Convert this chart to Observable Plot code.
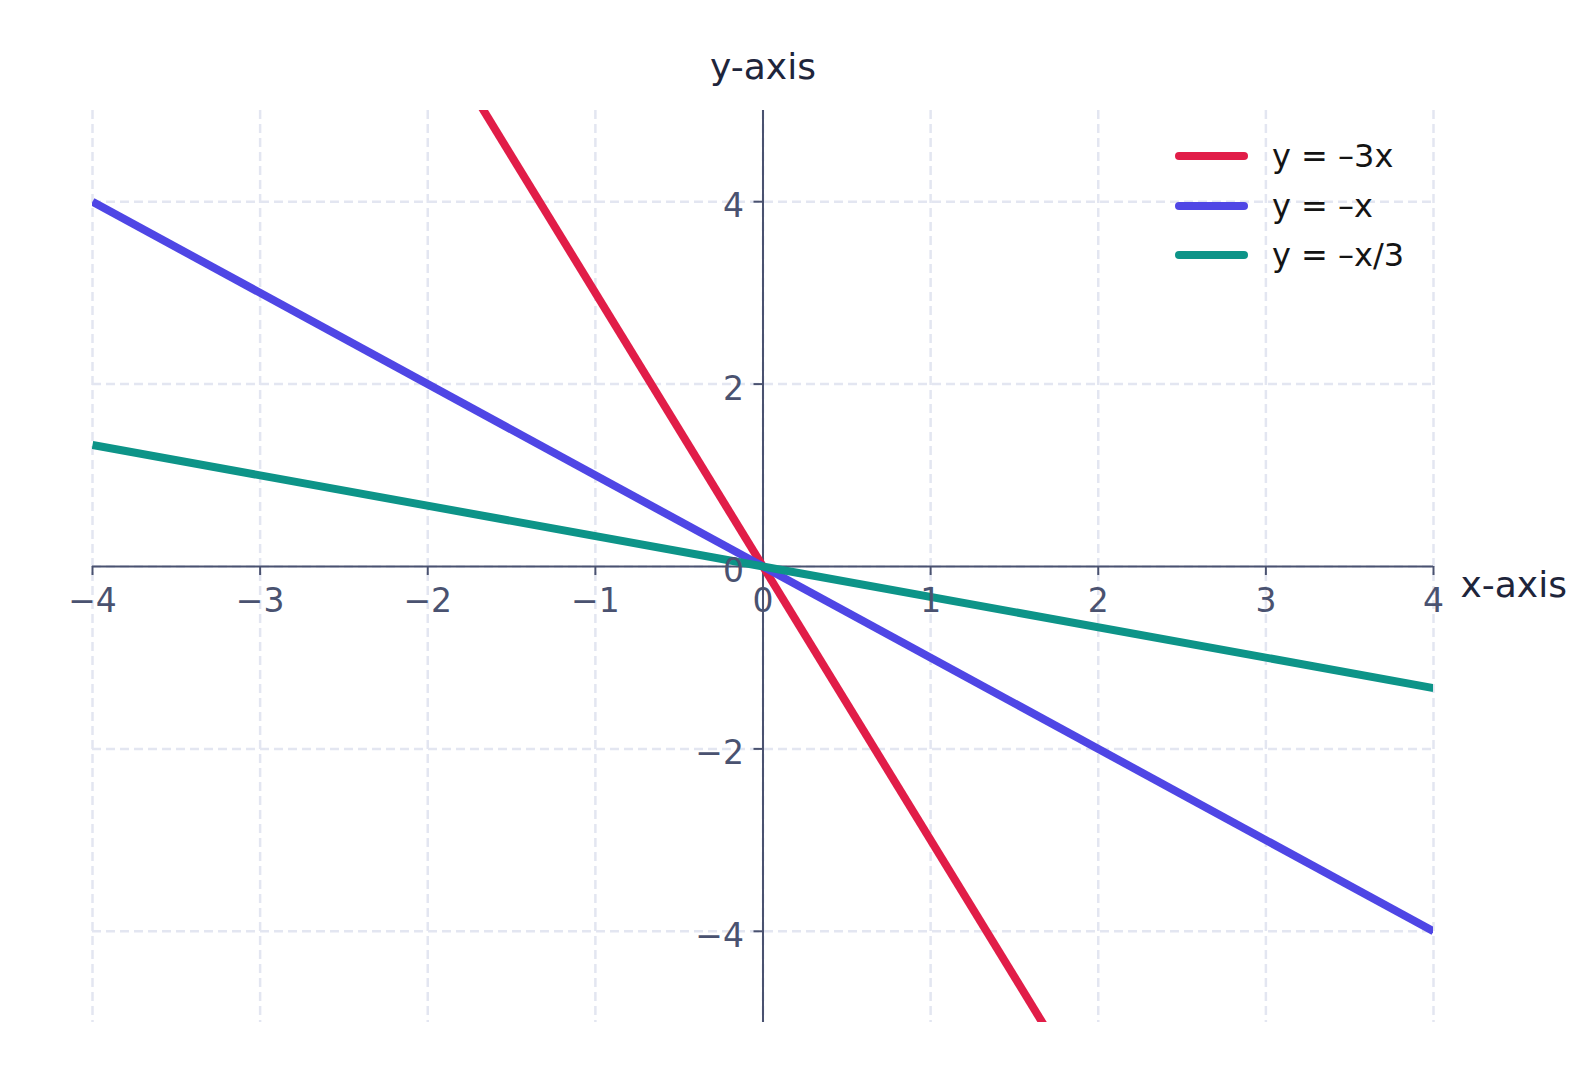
<!DOCTYPE html>
<html>
<head>
<meta charset="utf-8">
<script src="https://cdn.jsdelivr.net/npm/d3@7"></script>
<script src="https://cdn.jsdelivr.net/npm/@observablehq/plot@0.6"></script>
<style>
  html, body { margin: 0; padding: 0; background: #fff; }
  #wrap { position: relative; width: 1581px; height: 1088px; font-family: "DejaVu Sans", sans-serif; }
  #legend { position: absolute; left: 1175px; top: 131px; }
  .row { display: flex; align-items: center; height: 49.7px; }
  .swatch { width: 73px; height: 8px; border-radius: 4px; margin-right: 24px; }
  .lab { font-size: 32px; color: #141414; line-height: 1; }
</style>
</head>
<body>
<div id="wrap"><div id="legend"></div></div>
<script>
// Series data (endpoints of each line)
const seriesNames = ["y = –3x", "y = –x", "y = –x/3"];
const seriesColors = ["#e11d48", "#4f46e5", "#0d9488"];
const redX = [-2, 2];
const redY = [6, -6];
const blueX = [-4, 4];
const blueY = [4, -4];
const greenX = [-4, 4];
const greenY = [1.333, -1.333];

// Ticks
const xTicks = [-4, -3, -2, -1, 0, 1, 2, 3, 4];
const yTicks = [-4, -2, 0, 2, 4];
const xTickLabels = ["−4", "−3", "−2", "−1", "0", "1", "2", "3", "4"];
const yTickLabels = ["−4", "−2", "0", "2", "4"];

const seriesX = [redX, blueX, greenX];
const seriesY = [redY, blueY, greenY];
const lineData = seriesNames.flatMap((name, i) =>
  seriesX[i].map((x, j) => ({ name, x, y: seriesY[i][j], color: seriesColors[i] }))
);

const axisColor = "#4a5270";
const gridColor = "#e3e6f1";

const chart = Plot.plot({
  width: 1581,
  height: 1088,
  marginLeft: 92,
  marginRight: 148,
  marginTop: 110,
  marginBottom: 66,
  x: { domain: [-4, 4], axis: null },
  y: { domain: [-5, 5], axis: null },
  style: { fontFamily: "DejaVu Sans", background: "#fff" },
  marks: [
    Plot.ruleX(xTicks, { stroke: gridColor, strokeWidth: 2.5, strokeDasharray: "9,5" }),
    Plot.ruleY(yTicks, { stroke: gridColor, strokeWidth: 2.5, strokeDasharray: "9,5" }),
    Plot.ruleY([0], { stroke: axisColor, strokeWidth: 2 }),
    Plot.ruleX([0], { stroke: axisColor, strokeWidth: 2 }),
    Plot.ruleX(xTicks, { x: d => d, y1: 0, y2: 0, insetTop: 0, insetBottom: -9, stroke: axisColor, strokeWidth: 2 }),
    Plot.ruleY(yTicks, { y: d => d, x1: 0, x2: 0, insetLeft: -9, insetRight: 0, stroke: axisColor, strokeWidth: 2 }),
    Plot.line(lineData, { x: "x", y: "y", z: "name", stroke: "color", strokeWidth: 8, clip: true, strokeLinecap: "butt" }),
    Plot.text(xTicks, { x: d => d, y: 0, text: (d, i) => xTickLabels[i], dy: 35, fontSize: 33, fill: axisColor }),
    Plot.text(yTicks, { x: 0, y: d => d, text: (d, i) => yTickLabels[i], dx: -19, dy: 5, textAnchor: "end", fontSize: 33, fill: axisColor }),
    Plot.text(["y-axis"], { x: 0, frameAnchor: "top", dy: -57, text: d => d, fontSize: 36, fill: "#1e253b" }),
    Plot.text(["x-axis"], { y: 0, frameAnchor: "right", textAnchor: "start", dx: 27, dy: 19, text: d => d, fontSize: 36, fill: "#1e253b" })
  ]
});

document.getElementById("wrap").prepend(chart);
chart.style.position = "absolute";
chart.style.left = "0";
chart.style.top = "0";

const legend = document.getElementById("legend");
seriesNames.forEach((name, i) => {
  const row = document.createElement("div");
  row.className = "row";
  const sw = document.createElement("div");
  sw.className = "swatch";
  sw.style.background = seriesColors[i];
  const lab = document.createElement("span");
  lab.className = "lab";
  lab.textContent = name;
  row.appendChild(sw);
  row.appendChild(lab);
  legend.appendChild(row);
});
</script>
</body>
</html>
